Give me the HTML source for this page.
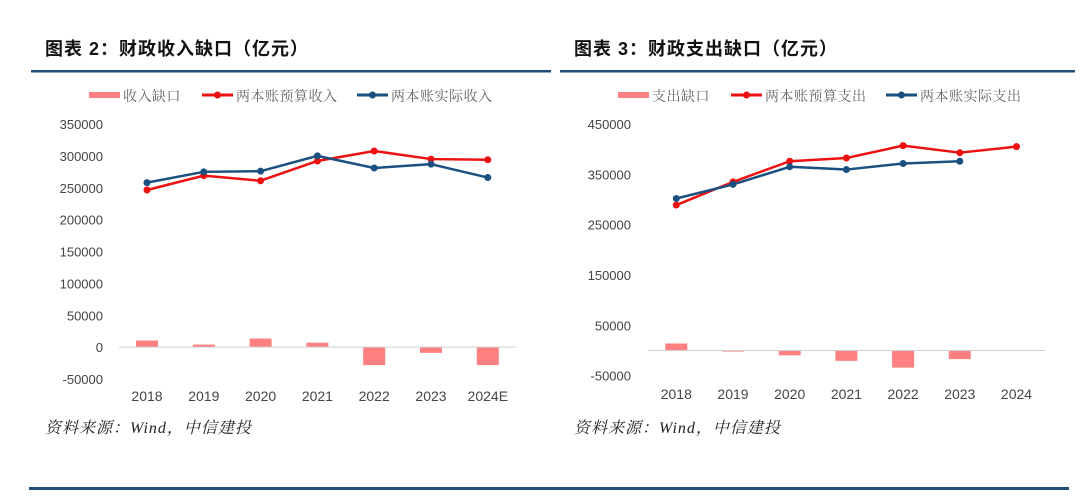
<!DOCTYPE html>
<html><head><meta charset="utf-8">
<style>
body{margin:0;background:#fff;width:1080px;height:498px;overflow:hidden;font-family:"Liberation Sans","Noto Sans CJK SC",sans-serif;}
svg{position:absolute;left:0;top:0}
</style></head>
<body>
<svg id="svg" width="1080" height="498">
  <g>
    <text x="45" y="55" font-size="18" font-weight="bold" fill="#111" letter-spacing="1" font-family="'Liberation Sans','Noto Sans CJK SC',sans-serif">图表 2：财政收入缺口（亿元）</text>
    <rect x="31" y="70" width="520" height="2.5" fill="#1f4e79"/>
  </g>
  <g>
    <text x="574" y="55" font-size="18" font-weight="bold" fill="#111" letter-spacing="1" font-family="'Liberation Sans','Noto Sans CJK SC',sans-serif">图表 3：财政支出缺口（亿元）</text>
    <rect x="560" y="70" width="515" height="2.5" fill="#1f4e79"/>
  </g>
  <text x="45" y="433" font-size="16" font-style="italic" fill="#222" letter-spacing="1" font-family="'Liberation Serif','Noto Serif CJK SC',serif">资料来源：Wind，中信建投</text>
  <text x="574" y="433" font-size="16" font-style="italic" fill="#222" letter-spacing="1" font-family="'Liberation Serif','Noto Serif CJK SC',serif">资料来源：Wind，中信建投</text>
  <rect x="29" y="487" width="1040" height="3" fill="#1f4e79"/>
  <g id="left"></g>
  <g id="right"></g>
</svg>
<script>
const leftCategories=["2018","2019","2020","2021","2022","2023","2024E"];
const leftBudget=[246500,269000,261000,292000,307700,295000,294000];
const leftActual=[258000,275000,276000,300000,281000,287000,266000];
const leftGap=[10300,4000,13500,7000,-28200,-9000,-28200];
const leftTicks=[350000,300000,250000,200000,150000,100000,50000,0,-50000];
const leftLegend=["收入缺口","两本账预算收入","两本账实际收入"];

const rightCategories=["2018","2019","2020","2021","2022","2023","2024"];
const rightBudget=[289000,335000,376000,382500,407000,393000,405000];
const rightActual=[302000,330000,365000,359500,371500,376000,null];
const rightGap=[14000,-2000,-9500,-20500,-34000,-17000,null];
const rightTicks=[450000,350000,250000,150000,50000,-50000];
const rightLegend=["支出缺口","两本账预算支出","两本账实际支出"];

const NS="http://www.w3.org/2000/svg";
function mk(tag,attrs,parent){const e=document.createElementNS(NS,tag);for(const k in attrs)e.setAttribute(k,attrs[k]);parent.appendChild(e);return e;}

function draw(gid,cfg){
  const g=document.getElementById(gid);
  const y=v=>cfg.y0-(v-cfg.vmin)/(cfg.vmax-cfg.vmin)*(cfg.y0-cfg.y1);
  const x=i=>cfg.x0+i*cfg.step;
  const lg=mk('g',{},g);
  
  
  const lx=cfg.legendX;
  const r=mk('rect',{x:lx,y:92,width:31,height:6,fill:'#ff8080'},lg);
  
  
  const lf="'Liberation Serif','Noto Serif CJK SC',serif";
  const t0=mk('text',{x:lx+34,y:101,'font-size':14,fill:'#666','font-family':lf,'letter-spacing':0.5},lg);t0.textContent=cfg.legend[0];
  
  
  const sw=[[lx+113,'#ee1111',1],[lx+268,'#1a5080',2]];
  sw.forEach(([sx,c,k])=>{
    mk('line',{x1:sx,y1:95,x2:sx+31,y2:95,stroke:c,'stroke-width':3},lg);
    mk('circle',{cx:sx+15.5,cy:95,r:3.5,fill:c},lg);
    const t=mk('text',{x:sx+34,y:101,'font-size':14,fill:'#666','font-family':lf,'letter-spacing':0.5},lg);t.textContent=cfg.legend[k];
    
    
  });
  cfg.ticks.forEach(v=>{
    const t=mk('text',{x:cfg.tickX,y:y(v)+5,'font-size':13,fill:'#444','text-anchor':'end'},g);
    t.textContent=String(v);
    
    
  });
  cfg.gap.forEach((v,i)=>{
    if(v===null)return;
    const b=mk('rect',{x:x(i)-11,y:Math.min(y(v),y(0)),width:22,height:Math.abs(y(v)-y(0)),fill:'#ff8080'},g);
    
    
  });
  const ax=mk('line',{x1:cfg.axL,x2:cfg.axR,y1:y(0),y2:y(0),stroke:'#d0d0d0','stroke-width':1},g);
  
  
  cfg.cats.forEach((c,i)=>{
    const t=mk('text',{x:x(i),y:cfg.xLabelY,'font-size':14,fill:'#444','text-anchor':'middle'},g);
    t.textContent=c;
    
    
  });
  [[cfg.budget,'#ee1111','budget-line'],[cfg.actual,'#1a5080','actual-line']].forEach(([arr,c,n])=>{
    const pts=arr.map((v,i)=>v===null?null:[x(i),y(v)]).filter(p=>p);
    const pl=mk('polyline',{points:pts.map(p=>p.join(',')).join(' '),fill:'none',stroke:c,'stroke-width':2.5,'stroke-linejoin':'round'},g);
    
    
    pts.forEach(p=>{
      const m=mk('circle',{cx:p[0],cy:p[1],r:3.5,fill:c},g);
      
      
    });
  });
}
draw('left',{cats:leftCategories,budget:leftBudget,actual:leftActual,gap:leftGap,ticks:leftTicks,legend:leftLegend,
  vmin:-50000,vmax:350000,y0:379,y1:124,x0:147,step:56.8,axL:119,axR:516,tickX:103,xLabelY:401,legendX:89});
draw('right',{cats:rightCategories,budget:rightBudget,actual:rightActual,gap:rightGap,ticks:rightTicks,legend:rightLegend,
  vmin:-50000,vmax:450000,y0:375.7,y1:124,x0:676.3,step:56.7,axL:648,axR:1045,tickX:631,xLabelY:399,legendX:618});
</script>
</body></html>
